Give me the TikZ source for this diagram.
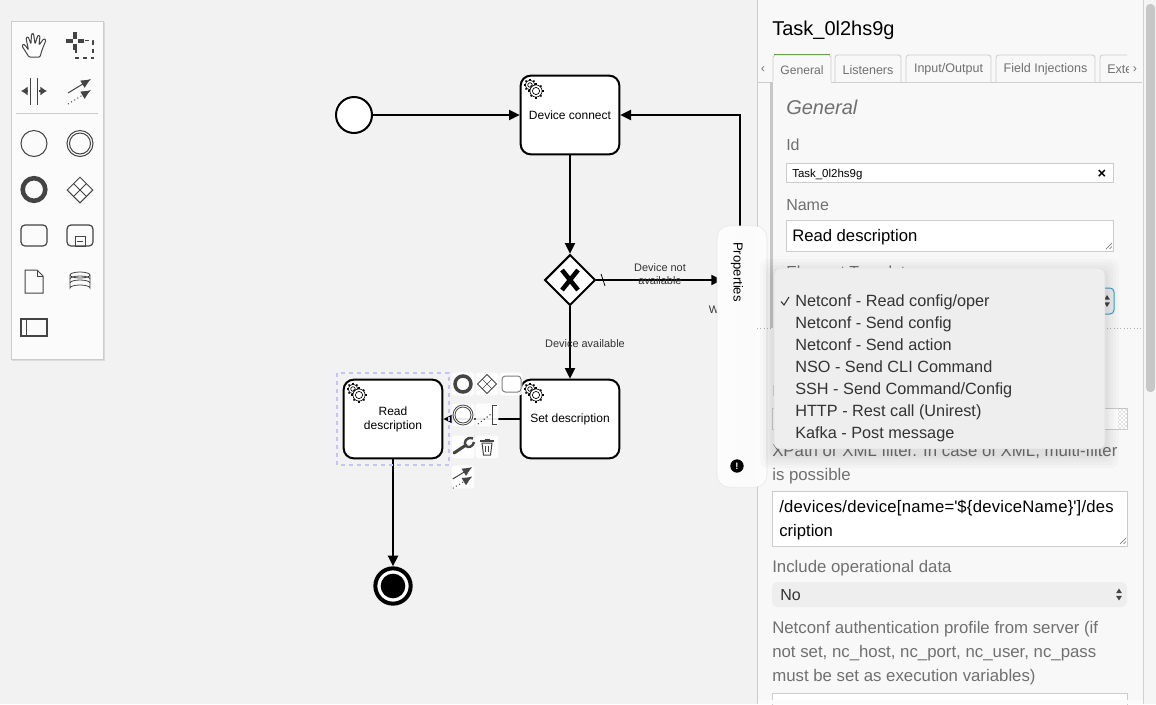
\documentclass[tikz,border=0pt]{standalone}
\usepackage{fontspec}
\setmainfont{Liberation Sans}
\usepackage{xcolor}
\usetikzlibrary{shapes.geometric,positioning,calc,patterns,arrows.meta}

\definecolor{canvasbg}{HTML}{F2F2F2}
\definecolor{panelbg}{HTML}{F8F8F8}
\definecolor{iconcol}{HTML}{444444}
\definecolor{rulecol}{HTML}{CCCCCC}
\definecolor{txtgray}{HTML}{707070}
\definecolor{txtdark}{HTML}{333333}
\definecolor{menubg}{HTML}{EEEEEE}
\definecolor{selcol}{HTML}{C4C4FA}
\definecolor{tabgreen}{HTML}{52B415}
\definecolor{focusblue}{HTML}{2AA7E0}

\tikzset{
    bpmntask/.style={draw=black, fill=white, line width=1.5pt, rounded corners=7.5pt, minimum width=74pt, minimum height=59pt, inner sep=0pt, align=center, font=\fontsize{9}{10.5}\selectfont},
    startevt/.style={draw=black, fill=white, circle, line width=1.5pt, minimum size=27pt, inner sep=0pt},
    endevt/.style={draw=black, fill=white, circle, line width=3pt, minimum size=26.5pt, inner sep=0pt},
    enddisc/.style={fill=black, circle, minimum size=18.5pt, inner sep=0pt},
    gateway/.style={draw=black, fill=white, diamond, aspect=1, line width=1.5pt, minimum width=38pt, minimum height=38pt, inner sep=0pt},
    flow/.style={draw=black, line width=1.5pt, -{Triangle[length=8pt,width=7.5pt]}},
    flowlabel/.style={inner sep=0pt, align=center, text=txtdark, font=\fontsize{8.2}{10}\selectfont},
    padbox/.style={fill=white, fill opacity=0.92, rounded corners=2pt, minimum size=17pt, inner sep=0pt},
    icon/.style={draw=iconcol, line width=0.75pt},
    paneltext/.style={anchor=base west, inner sep=0pt, text=txtgray, font=\fontsize{12}{14}\selectfont},
    longtext/.style={paneltext, font=\fontsize{12.6}{14}\selectfont},
    valuetext/.style={paneltext, text=black, font=\fontsize{12.5}{14}\selectfont},
    tabbox/.style={draw=rulecol, fill=panelbg, line width=0.6pt},
    tablabel/.style={inner sep=0pt, text=txtgray, font=\fontsize{9.4}{11}\selectfont},
    inputbox/.style={draw=rulecol, fill=white, line width=0.75pt},
    menuitem/.style={paneltext, text=txtdark, font=\fontsize{12.2}{14}\selectfont},
    gears/.pic={
        \foreach \cx/\cy/\rr in {-3/-3/6.3,3/3/7.6} {
            \foreach \a in {0,45,...,315}
                \draw[black, line width=1.1pt] ($(\cx,\cy)+(\a:\rr-2)$) -- ($(\cx,\cy)+(\a:\rr)$);
            \draw[black, fill=white, line width=0.5pt] (\cx,\cy) circle (\rr-1.5);
            \draw[black, line width=0.5pt] (\cx,\cy) circle (\rr-4);
        }
    },
    connecticon/.pic={
        \draw[icon, -{Latex[length=7.5pt,width=6.5pt]}] (-12,7) -- (11,-7);
        \draw[icon, dotted, -{Latex[length=7.5pt,width=6.5pt]}] (-12,18) -- (11,4);
    },
    updown/.pic={
        \fill[iconcol] (-3.5,-1.5) -- (0,-7) -- (3.5,-1.5) -- cycle;
        \fill[iconcol] (-3.5,1.5) -- (0,7) -- (3.5,1.5) -- cycle;
    }
}

\begin{document}
\begin{tikzpicture}[x=0.75pt, y=-0.75pt]
    \useasboundingbox (0,0) rectangle (1156,704);
    \fill[canvasbg] (0,0) rectangle (1156,704);

    % Flow elements
    \node[startevt] at (354,115) (startEv) {};
    \node[bpmntask] at (570,115) (connectTask) {Device connect};
    \node[gateway] at (570,280) (deviceGw) {};
    \node[bpmntask] at (570,419) (setTask) {Set description};
    \node[bpmntask] at (393,419) (readTask) {Read\\description};
    \node[endevt] at (393,586) (endEv) {};
    \node[enddisc] at (393,586) (endDisc) {};
    \coordinate (hiddenIn) at (722,280);
    \coordinate (hiddenOut) at (740,240);

    % Gateway marker
    \draw[black, line width=3.4pt] ([shift={(-8,-10)}]deviceGw.center) -- ([shift={(8,10)}]deviceGw.center);
    \draw[black, line width=3.4pt] ([shift={(8,-10)}]deviceGw.center) -- ([shift={(-8,10)}]deviceGw.center);

    % Sequence flows
    \draw[flow] (startEv) -- (connectTask);
    \draw[flow] (connectTask) -- (deviceGw);
    \draw[flow] (deviceGw) -- (setTask);
    \draw[flow] (setTask) -- (readTask);
    \draw[flow] (readTask) -- (endEv);
    \draw[flow] (deviceGw) -- (hiddenIn);
    \draw[flow] (hiddenOut) |- (connectTask.east);
    \draw[black, line width=0.6pt] ([shift={(31,-6)}]deviceGw.center) -- ([shift={(35,6)}]deviceGw.center);

    % Flow labels
    \node[flowlabel] at (660,274) (notAvail) {Device not\\available};
    \node[flowlabel] at (585,344) (avail) {Device available};
    \node[flowlabel] at (714,310) (clipW) {W};

    % Task icons
    \pic at (533,88) {gears};
    \pic at (533,392) {gears};
    \pic at (356,392) {gears};

    % Selection frame
    \draw[selcol, line width=1.1pt, dashed] (337,373) rectangle (449,465);

    % Context pad
    \node[padbox] at (463,384) (padEnd) {};
    \node[padbox] at (487,384) (padGw) {};
    \node[padbox] at (511,384) (padTask) {};
    \node[padbox] at (463,415) (padInter) {};
    \node[padbox] at (487,415) (padNote) {};
    \node[padbox] at (463,447) (padWrench) {};
    \node[padbox] at (487,447) (padTrash) {};
    \node[padbox] at (463,477) (padConn) {};
    \draw[iconcol, line width=2.6pt] (padEnd) circle (8);
    \node[draw=iconcol, fill=white, diamond, aspect=1, line width=0.7pt, minimum size=14.5pt, inner sep=0pt] at (487,384) (padDiamond) {};
    \draw[iconcol, line width=0.5pt] (482,379) -- (492,389) (492,379) -- (482,389);
    \draw[icon, rounded corners=2.5pt, draw=gray, fill=white] (502,376) rectangle (521,392);
    \draw[icon, line width=0.6pt] (padInter) circle (10);
    \draw[icon, line width=0.6pt] (padInter) circle (8);
    \draw[icon, dotted, line width=0.9pt] (478,424) -- (491,414);
    \draw[icon] (497,405) -- (492,405) -- (492,424) -- (497,424);
    \draw[iconcol, line width=2.3pt, line cap=round] (454,453) -- (466,445);
    \draw[iconcol, line width=1.8pt] (473,438.5) .. controls (466,436) and (463,443) .. (466,446) .. controls (468,448) and (473,447) .. (474,442);
    \draw[icon] (482,443) -- (483.5,455) -- (490.5,455) -- (492,443) -- cycle;
    \draw[icon, line width=1.1pt] (480,441) -- (494,441);
    \draw[icon, line width=0.6pt] (484.5,439) -- (489.5,439);
    \draw[icon, line width=0.6pt] (485.5,446) -- (485.5,452) (488.5,446) -- (488.5,452);
    \pic[scale=0.85] at (463,473) {connecticon};

    % Palette
    \fill[black!14] (12,22) rectangle (104.5,360.5);
    \node[draw=rulecol, fill=white!50!panelbg, line width=0.6pt, minimum width=69pt, minimum height=253.5pt, inner sep=0pt] at (57,190) (paletteBox) {};
    \draw[rulecol, line width=0.6pt] (16,113.5) -- (98,113.5);
    \draw[icon, rounded corners=0.8pt, fill=white] (29,57) -- (22,46) -- (23,44) -- (25,45) -- (28.5,50) -- (26,38) -- (28,36.5) -- (31,44) -- (31.5,34) -- (33.5,33.5) -- (35,44) -- (38,35) -- (40,36) -- (39,45) -- (44,38.5) -- (46,40) -- (42,50) -- (40,57) -- cycle;
    \draw[iconcol, line width=2.4pt] (75,32) -- (75,38.5) (75,43.5) -- (75,50) (66,41) -- (72.5,41) (77.5,41) -- (84,41);
    \draw[icon, dashed, line width=0.8pt] (85,40.5) -- (93,40.5) -- (93,58) -- (76,58) -- (76,50);
    \draw[icon] (30,78) -- (30,105) (37,78) -- (37,105);
    \draw[iconcol, -{Latex[length=5pt,width=7pt]}, line width=1pt] (28,91) -- (21,91);
    \draw[iconcol, -{Latex[length=5pt,width=7pt]}, line width=1pt] (39,91) -- (47,91);
    \pic at (80,86) {connecticon};
    \draw[icon] (34,143.5) circle (13);
    \draw[icon] (80,143.5) circle (13);
    \draw[icon] (80,143.5) circle (10.5);
    \draw[iconcol, line width=3.4pt] (34,189.5) circle (11.3);
    \node[draw=iconcol, fill=white, diamond, aspect=1, line width=0.75pt, minimum size=19.5pt, inner sep=0pt] at (80,190) (palGw) {};
    \draw[icon] (73.5,183.5) -- (86.5,196.5) (86.5,183.5) -- (73.5,196.5);
    \draw[icon, rounded corners=3pt, line width=0.9pt] (21,225) rectangle (47,246);
    \draw[icon, rounded corners=3pt, line width=0.9pt] (67,225) rectangle (93,246);
    \draw[icon] (75,236) rectangle (85,246);
    \draw[icon] (77,241) -- (83,241);
    \draw[icon] (25,270) -- (37,270) -- (43,276) -- (43,293) -- (25,293) -- cycle;
    \draw[icon] (37,270) -- (37,276) -- (43,276);
    \draw[icon, line width=0.6pt] (70,275) -- (70,288) arc (180:0:10 and -3) -- (90,275);
    \draw[icon, line width=0.6pt] (80,275) ellipse (10 and 3);
    \draw[icon, line width=0.6pt] (70,279) arc (180:0:10 and -3);
    \draw[icon, line width=0.6pt] (70,283) arc (180:0:10 and -3);
    \draw[icon, line width=0.9pt] (21,319) rectangle (47,336);
    \draw[icon] (26,319) -- (26,336);

    % Side panel
    \fill[panelbg] (757,0) rectangle (1156,704);
    \draw[rulecol, line width=0.75pt] (757,0) -- (757,704);
    \fill[black!4] (1143,0) rectangle (1156,704);
    \draw[black!18, line width=0.5pt] (1143,0) -- (1143,704);
    \fill[black!22, rounded corners=3pt] (1146,4) rectangle (1155,392);

    % Properties tab
    \node[draw=black!10, fill=white!60!panelbg, rounded corners=9pt, minimum width=37.5pt, minimum height=196pt, inner sep=0pt] at (742,356.5) (propTab) {};
    \fill[panelbg!60!white] (735,226.5) rectangle (757,486.5);
    \node[rotate=-90, inner sep=0pt, text=black, font=\fontsize{9.8}{11}\selectfont] at (737,272) (propLabel) {Properties};
    \node[fill=black, circle, minimum size=10pt, inner sep=0pt, text=white, font=\bfseries\fontsize{7}{7}\selectfont] at (737,466) (propInfo) {!};

    % Header and tabs
    \node[valuetext, font=\fontsize{15}{18}\selectfont] at (772,35) (taskTitle) {Task\_0l2hs9g};
    \draw[rulecol, line width=0.6pt] (757,82) -- (1142,82);
    \fill[black!22] (770,82) rectangle (773,328);
    \draw[tabbox] (773,82.5) -- (773,57) -- (775,55) -- (829,55) -- (831,57) -- (831,82.5);
    \fill[panelbg] (773.4,81) rectangle (830.6,84);
    \draw[tabgreen, line width=1pt] (774,54.5) -- (830,54.5);
    \draw[tabbox, rounded corners=2pt] (835,82) -- (835,55) -- (901,55) -- (901,82);
    \draw[tabbox, rounded corners=2pt] (906,82) -- (906,55) -- (991,55) -- (991,82);
    \draw[tabbox, rounded corners=2pt] (996,82) -- (996,55) -- (1095,55) -- (1095,82);
    \draw[tabbox, rounded corners=2pt] (1100,82) -- (1100,55) -- (1127,55);
    \node[tablabel, font=\fontsize{9.1}{11}\selectfont] at (802,69.7) (tabGeneral) {General};
    \node[tablabel] at (868,69.7) (tabListeners) {Listeners};
    \node[tablabel] at (948.5,69.7) (tabIO) {Input/Output};
    \node[tablabel] at (1045.5,69.7) (tabField) {Field Injections};
    \begin{scope}
        \clip (1100,55) rectangle (1128,82);
        \node[tablabel, anchor=west] at (1107,69.7) (tabExt) {Exte};
    \end{scope}
    \node[tablabel] at (763,69.7) (tabPrev) {‹};
    \node[tablabel] at (1135,69.7) (tabNext) {›};

    % General group
    \node[paneltext, font=\itshape\fontsize{15}{18}\selectfont] at (786,114) (groupTitle) {General};
    \node[paneltext] at (786,150) (idLabel) {Id};
    \draw[inputbox] (786,163) rectangle (1113,182);
    \node[valuetext, font=\fontsize{8.6}{10}\selectfont] at (792,177) (idValue) {Task\_0l2hs9g};
    \node[valuetext, font=\bfseries\fontsize{11}{11}\selectfont, anchor=center] at (1102,174) (idClear) {×};
    \node[paneltext] at (786,210) (nameLabel) {Name};
    \draw[inputbox] (786,220) rectangle (1113,251);
    \node[valuetext] at (792,241) (nameValue) {Read description};
    \draw[black!60, line width=0.4pt] (1106,249) -- (1112,243) (1109.5,249) -- (1112,246.5);
    \node[paneltext] at (786,277) (tplLabel) {Element Template};
    \draw[focusblue, fill=menubg, rounded corners=3pt, line width=0.75pt] (786,288) rectangle (1114,314);
    \pic[scale=0.85] at (1107,301) {updown};
    \draw[black!30, dotted, line width=0.5pt] (757,328) -- (1142,328);

    % Fields under the menu
    \node[paneltext] at (772,396) (hiddenLabel) {I};
    \draw[inputbox] (772,408) rectangle (1127,429);
    \fill[pattern=crosshatch dots, pattern color=black!45] (1118,408.5) rectangle (1126.5,428.5);
    \node[longtext] at (772,456) (filterOne) {XPath or XML filter. In case of XML, multi-filter};
    \node[longtext] at (772,480) (filterTwo) {is possible};
    \draw[inputbox] (772,491) rectangle (1127,546);
    \node[valuetext] at (779,512) (xpathOne) {\addfontfeature{LetterSpace=1.5}/devices/device[name=\textquotesingle\$\{deviceName\}\textquotesingle]/des};
    \node[valuetext] at (779,536) (xpathTwo) {cription};
    \draw[black!60, line width=0.4pt] (1120,544) -- (1126,538) (1123.5,544) -- (1126,541.5);
    \node[longtext] at (772,572) (opLabel) {Include operational data};
    \fill[menubg, rounded corners=4pt] (772,582) rectangle (1127,607);
    \node[paneltext, text=txtdark] at (780,600) (opValue) {No};
    \pic[scale=0.85] at (1119,594.5) {updown};
    \node[longtext] at (772,633) (authOne) {Netconf authentication profile from server (if};
    \node[longtext] at (772,657) (authTwo) {not set, nc\_host, nc\_port, nc\_user, nc\_pass};
    \node[longtext] at (772,681) (authThree) {must be set as execution variables)};
    \draw[inputbox] (772,693) rectangle (1127,720);
    \fill[white!50!panelbg] (757.5,700) rectangle (1143,704);

    % Dropdown menu
    \foreach \s in {14,11,8,5,3}
        \fill[black, opacity=0.018, rounded corners=6pt] (774-\s,268-\s+5) rectangle (1105+\s,449+\s+5);
    \node[draw=black!12, fill=menubg, rounded corners=4.5pt, minimum width=248pt, minimum height=135.5pt, inner sep=0pt] at (939.5,358.5) (menuBox) {};
    \foreach \n/\yy/\t in {1/306/{Netconf - Read config/oper},2/328/{Netconf - Send config},3/350/{Netconf - Send action},4/372/{NSO - Send CLI Command},5/394/{SSH - Send Command/Config},6/416/{HTTP - Rest call (Unirest)},7/438/{Kafka - Post message}}
        \node[menuitem] at (795,\yy) (menuItem\n) {\t};
    \draw[txtdark, line width=0.8pt] (781,301.5) -- (784,305) -- (789,297);
\end{tikzpicture}
\end{document}
